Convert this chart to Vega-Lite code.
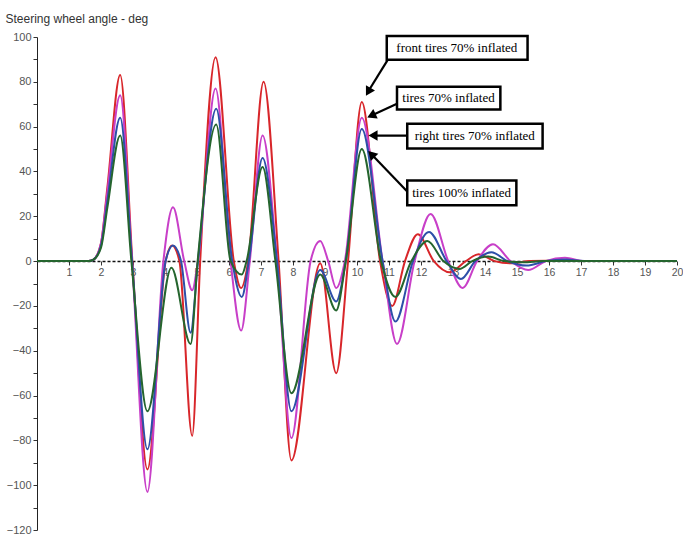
{
  "$schema": "https://vega.github.io/schema/vega-lite/v6.json",
  "width": 640,
  "height": 493,
  "autosize": {"type": "none"},
  "padding": {"left": 37, "top": 37, "right": 6, "bottom": 8},
  "background": "white",
  "view": {"stroke": null},
  "config": {"axis": {"labelOverlap": false, "labelBound": false, "labelFlush": false, "tickCount": 100}},
  "datasets": {
    "curves": [
      {"s": "front tires 70% inflated", "t": 0, "v": 0},
      {"s": "front tires 70% inflated", "t": 1.6, "v": 0},
      {"s": "front tires 70% inflated", "t": 1.75, "v": 0.5},
      {"s": "front tires 70% inflated", "t": 2.0, "v": 8},
      {"s": "front tires 70% inflated", "t": 2.2, "v": 33},
      {"s": "front tires 70% inflated", "t": 2.6, "v": 83},
      {"s": "front tires 70% inflated", "t": 2.98, "v": 0},
      {"s": "front tires 70% inflated", "t": 3.45, "v": -93},
      {"s": "front tires 70% inflated", "t": 4.02, "v": 0},
      {"s": "front tires 70% inflated", "t": 4.22, "v": 7},
      {"s": "front tires 70% inflated", "t": 4.45, "v": 0},
      {"s": "front tires 70% inflated", "t": 4.85, "v": -78},
      {"s": "front tires 70% inflated", "t": 5.1, "v": 0},
      {"s": "front tires 70% inflated", "t": 5.58, "v": 91},
      {"s": "front tires 70% inflated", "t": 6.15, "v": 0},
      {"s": "front tires 70% inflated", "t": 6.38, "v": -12},
      {"s": "front tires 70% inflated", "t": 6.6, "v": 0},
      {"s": "front tires 70% inflated", "t": 7.08, "v": 80},
      {"s": "front tires 70% inflated", "t": 7.55, "v": 0},
      {"s": "front tires 70% inflated", "t": 7.95, "v": -89},
      {"s": "front tires 70% inflated", "t": 8.85, "v": -1},
      {"s": "front tires 70% inflated", "t": 9.35, "v": -50},
      {"s": "front tires 70% inflated", "t": 9.72, "v": 0},
      {"s": "front tires 70% inflated", "t": 10.15, "v": 71},
      {"s": "front tires 70% inflated", "t": 10.72, "v": 0},
      {"s": "front tires 70% inflated", "t": 11.1, "v": -20},
      {"s": "front tires 70% inflated", "t": 11.5, "v": 0},
      {"s": "front tires 70% inflated", "t": 11.9, "v": 12},
      {"s": "front tires 70% inflated", "t": 12.4, "v": 0},
      {"s": "front tires 70% inflated", "t": 12.9, "v": -5},
      {"s": "front tires 70% inflated", "t": 13.4, "v": 0},
      {"s": "front tires 70% inflated", "t": 13.8, "v": 3},
      {"s": "front tires 70% inflated", "t": 14.3, "v": 0},
      {"s": "front tires 70% inflated", "t": 14.8, "v": -1},
      {"s": "front tires 70% inflated", "t": 15.4, "v": 0},
      {"s": "front tires 70% inflated", "t": 16.5, "v": 0.3},
      {"s": "front tires 70% inflated", "t": 17.2, "v": 0},
      {"s": "front tires 70% inflated", "t": 20, "v": 0},

      {"s": "tires 70% inflated", "t": 0, "v": 0},
      {"s": "tires 70% inflated", "t": 1.6, "v": 0},
      {"s": "tires 70% inflated", "t": 1.75, "v": 0.5},
      {"s": "tires 70% inflated", "t": 2.0, "v": 8},
      {"s": "tires 70% inflated", "t": 2.2, "v": 31},
      {"s": "tires 70% inflated", "t": 2.6, "v": 74},
      {"s": "tires 70% inflated", "t": 2.97, "v": 0},
      {"s": "tires 70% inflated", "t": 3.45, "v": -103},
      {"s": "tires 70% inflated", "t": 3.95, "v": 0},
      {"s": "tires 70% inflated", "t": 4.25, "v": 24},
      {"s": "tires 70% inflated", "t": 4.6, "v": 0},
      {"s": "tires 70% inflated", "t": 4.85, "v": -13},
      {"s": "tires 70% inflated", "t": 5.03, "v": 0},
      {"s": "tires 70% inflated", "t": 5.58, "v": 77},
      {"s": "tires 70% inflated", "t": 6.05, "v": 0},
      {"s": "tires 70% inflated", "t": 6.38, "v": -31},
      {"s": "tires 70% inflated", "t": 6.65, "v": 0},
      {"s": "tires 70% inflated", "t": 7.05, "v": 56},
      {"s": "tires 70% inflated", "t": 7.5, "v": 0},
      {"s": "tires 70% inflated", "t": 7.95, "v": -79},
      {"s": "tires 70% inflated", "t": 8.55, "v": 0},
      {"s": "tires 70% inflated", "t": 8.85, "v": 9},
      {"s": "tires 70% inflated", "t": 9.1, "v": 0},
      {"s": "tires 70% inflated", "t": 9.35, "v": -12},
      {"s": "tires 70% inflated", "t": 9.62, "v": 0},
      {"s": "tires 70% inflated", "t": 10.15, "v": 64},
      {"s": "tires 70% inflated", "t": 10.8, "v": 0},
      {"s": "tires 70% inflated", "t": 11.25, "v": -37},
      {"s": "tires 70% inflated", "t": 11.8, "v": 0},
      {"s": "tires 70% inflated", "t": 12.3, "v": 21},
      {"s": "tires 70% inflated", "t": 12.85, "v": 0},
      {"s": "tires 70% inflated", "t": 13.3, "v": -12},
      {"s": "tires 70% inflated", "t": 13.75, "v": 0},
      {"s": "tires 70% inflated", "t": 14.25, "v": 7.5},
      {"s": "tires 70% inflated", "t": 14.8, "v": 0},
      {"s": "tires 70% inflated", "t": 15.35, "v": -4},
      {"s": "tires 70% inflated", "t": 15.9, "v": 0},
      {"s": "tires 70% inflated", "t": 16.5, "v": 1.5},
      {"s": "tires 70% inflated", "t": 17.1, "v": 0},
      {"s": "tires 70% inflated", "t": 20, "v": 0},

      {"s": "right tires 70% inflated", "t": 0, "v": 0},
      {"s": "right tires 70% inflated", "t": 1.6, "v": 0},
      {"s": "right tires 70% inflated", "t": 1.75, "v": 0.5},
      {"s": "right tires 70% inflated", "t": 2.0, "v": 7},
      {"s": "right tires 70% inflated", "t": 2.2, "v": 27},
      {"s": "right tires 70% inflated", "t": 2.6, "v": 64},
      {"s": "right tires 70% inflated", "t": 2.97, "v": 0},
      {"s": "right tires 70% inflated", "t": 3.45, "v": -84},
      {"s": "right tires 70% inflated", "t": 4.02, "v": 0},
      {"s": "right tires 70% inflated", "t": 4.25, "v": 7},
      {"s": "right tires 70% inflated", "t": 4.5, "v": 0},
      {"s": "right tires 70% inflated", "t": 4.8, "v": -32},
      {"s": "right tires 70% inflated", "t": 5.03, "v": 0},
      {"s": "right tires 70% inflated", "t": 5.6, "v": 68},
      {"s": "right tires 70% inflated", "t": 6.1, "v": 0},
      {"s": "right tires 70% inflated", "t": 6.4, "v": -16},
      {"s": "right tires 70% inflated", "t": 6.62, "v": 0},
      {"s": "right tires 70% inflated", "t": 7.05, "v": 46},
      {"s": "right tires 70% inflated", "t": 7.5, "v": 0},
      {"s": "right tires 70% inflated", "t": 7.95, "v": -67},
      {"s": "right tires 70% inflated", "t": 8.85, "v": -4},
      {"s": "right tires 70% inflated", "t": 9.35, "v": -18},
      {"s": "right tires 70% inflated", "t": 9.65, "v": 0},
      {"s": "right tires 70% inflated", "t": 10.15, "v": 59},
      {"s": "right tires 70% inflated", "t": 10.8, "v": 0},
      {"s": "right tires 70% inflated", "t": 11.2, "v": -27},
      {"s": "right tires 70% inflated", "t": 11.75, "v": 0},
      {"s": "right tires 70% inflated", "t": 12.25, "v": 13},
      {"s": "right tires 70% inflated", "t": 12.8, "v": 0},
      {"s": "right tires 70% inflated", "t": 13.25, "v": -8},
      {"s": "right tires 70% inflated", "t": 13.7, "v": 0},
      {"s": "right tires 70% inflated", "t": 14.2, "v": 4},
      {"s": "right tires 70% inflated", "t": 14.7, "v": 0},
      {"s": "right tires 70% inflated", "t": 15.3, "v": -2},
      {"s": "right tires 70% inflated", "t": 15.9, "v": 0},
      {"s": "right tires 70% inflated", "t": 16.5, "v": 0.7},
      {"s": "right tires 70% inflated", "t": 17.1, "v": 0},
      {"s": "right tires 70% inflated", "t": 20, "v": 0},

      {"s": "tires 100% inflated", "t": 0, "v": 0},
      {"s": "tires 100% inflated", "t": 1.6, "v": 0},
      {"s": "tires 100% inflated", "t": 1.75, "v": 0.5},
      {"s": "tires 100% inflated", "t": 2.0, "v": 6},
      {"s": "tires 100% inflated", "t": 2.2, "v": 24},
      {"s": "tires 100% inflated", "t": 2.6, "v": 56},
      {"s": "tires 100% inflated", "t": 2.95, "v": 0},
      {"s": "tires 100% inflated", "t": 3.45, "v": -67},
      {"s": "tires 100% inflated", "t": 4.2, "v": -3},
      {"s": "tires 100% inflated", "t": 4.8, "v": -37},
      {"s": "tires 100% inflated", "t": 5.02, "v": 0},
      {"s": "tires 100% inflated", "t": 5.6, "v": 61},
      {"s": "tires 100% inflated", "t": 6.05, "v": 0},
      {"s": "tires 100% inflated", "t": 6.4, "v": -6},
      {"s": "tires 100% inflated", "t": 6.55, "v": 0},
      {"s": "tires 100% inflated", "t": 7.05, "v": 42},
      {"s": "tires 100% inflated", "t": 7.45, "v": 0},
      {"s": "tires 100% inflated", "t": 7.95, "v": -59},
      {"s": "tires 100% inflated", "t": 8.85, "v": -6},
      {"s": "tires 100% inflated", "t": 9.35, "v": -22},
      {"s": "tires 100% inflated", "t": 9.65, "v": 0},
      {"s": "tires 100% inflated", "t": 10.15, "v": 50},
      {"s": "tires 100% inflated", "t": 10.75, "v": 0},
      {"s": "tires 100% inflated", "t": 11.2, "v": -16},
      {"s": "tires 100% inflated", "t": 11.7, "v": 0},
      {"s": "tires 100% inflated", "t": 12.2, "v": 9},
      {"s": "tires 100% inflated", "t": 12.7, "v": 0},
      {"s": "tires 100% inflated", "t": 13.2, "v": -3.5},
      {"s": "tires 100% inflated", "t": 13.6, "v": 0},
      {"s": "tires 100% inflated", "t": 14.1, "v": 2},
      {"s": "tires 100% inflated", "t": 14.6, "v": 0},
      {"s": "tires 100% inflated", "t": 15.2, "v": -0.5},
      {"s": "tires 100% inflated", "t": 15.8, "v": 0},
      {"s": "tires 100% inflated", "t": 20, "v": 0}
    ],
    "notes": [
      {"label": "front tires 70% inflated", "x": 13.12, "y": 95, "x1": 10.93, "x2": 15.33, "y1": 89.8, "y2": 100.4},
      {"label": "tires 70% inflated", "x": 12.86, "y": 72.7, "x1": 11.25, "x2": 14.48, "y1": 67.6, "y2": 77.8},
      {"label": "right tires 70% inflated", "x": 13.68, "y": 55.8, "x1": 11.57, "x2": 15.8, "y1": 50.2, "y2": 61.3},
      {"label": "tires 100% inflated", "x": 13.27, "y": 30.4, "x1": 11.57, "x2": 14.98, "y1": 24.9, "y2": 36}
    ],
    "arrows": [
      {"x": 10.96, "y": 89.8, "x2": 10.32, "y2": 75, "hx": 10.35, "hy": 75.5, "angle": 30},
      {"x": 11.25, "y": 70.2, "x2": 10.42, "y2": 64.8, "hx": 10.45, "hy": 64.9, "angle": 65},
      {"x": 11.57, "y": 56, "x2": 10.48, "y2": 56, "hx": 10.5, "hy": 56, "angle": 90},
      {"x": 11.57, "y": 31.1, "x2": 10.43, "y2": 48, "hx": 10.45, "hy": 47.7, "angle": 136}
    ]
  },
  "layer": [
    {
      "data": {"name": "curves"},
      "mark": {"type": "line", "interpolate": "monotone", "strokeWidth": 2},
      "encoding": {
        "x": {
          "field": "t", "type": "quantitative",
          "scale": {"domain": [0, 20], "nice": false, "zero": false},
          "axis": {
            "title": null, "values": [1,2,3,4,5,6,7,8,9,10,11,12,13,14,15,16,17,18,19,20],
            "tickCount": 100, "format": "d",
            "offset": -269, "grid": false,
            "domainDash": [3, 2], "domainWidth": 1.5, "domainColor": "#111",
            "tickColor": "#333", "tickSize": 4,
            "labelColor": "#555", "labelFontSize": 10.5, "labelFont": "Liberation Sans Narrow, Liberation Sans, sans-serif",
            "labelPadding": 2, "labelOverlap": false, "labelFlush": false, "labelBound": false
          }
        },
        "y": {
          "field": "v", "type": "quantitative",
          "scale": {"domain": [-120, 100], "nice": false, "zero": false},
          "axis": {
            "values": [-120,-110,-100,-90,-80,-70,-60,-50,-40,-30,-20,-10,0,10,20,30,40,50,60,70,80,90,100],
            "tickCount": 100, "format": "d",
            "labelExpr": "datum.value % 20 === 0 ? datum.label : ''",
            "labelOverlap": false, "labelFlush": false,
            "grid": false,
            "title": "Steering wheel angle - deg",
            "titleAngle": 0, "titleAlign": "left", "titleBaseline": "middle",
            "titleX": -32, "titleY": -19,
            "titleFontSize": 12, "titleFontWeight": "normal", "titleColor": "#333",
            "titleFont": "Liberation Sans, sans-serif",
            "labelFont": "Liberation Sans Narrow, Liberation Sans, sans-serif",
            "labelFontSize": 11, "labelColor": "#555", "labelPadding": 2,
            "tickColor": "#333", "tickSize": 4, "domainColor": "#222"
          }
        },
        "color": {
          "field": "s", "type": "nominal",
          "scale": {
            "domain": ["front tires 70% inflated", "tires 70% inflated", "right tires 70% inflated", "tires 100% inflated"],
            "range": ["#d8262a", "#c83fc8", "#2d4fa8", "#25652e"]
          },
          "legend": null
        },
        "order": {"field": "t", "type": "quantitative"}
      }
    },
    {
      "data": {"name": "arrows"},
      "mark": {"type": "rule", "color": "black", "strokeWidth": 2.2},
      "encoding": {
        "x": {"field": "x", "type": "quantitative"},
        "y": {"field": "y", "type": "quantitative"},
        "x2": {"field": "x2"},
        "y2": {"field": "y2"}
      }
    },
    {
      "data": {"name": "arrows"},
      "mark": {"type": "point", "shape": "triangle-down", "filled": true, "color": "black", "size": 110, "opacity": 1},
      "encoding": {
        "x": {"field": "hx", "type": "quantitative"},
        "y": {"field": "hy", "type": "quantitative"},
        "angle": {"field": "angle", "type": "quantitative", "scale": null}
      }
    },
    {
      "data": {"name": "notes"},
      "mark": {"type": "rect", "fill": "white", "stroke": "black", "strokeWidth": 2.5},
      "encoding": {
        "x": {"field": "x1", "type": "quantitative"},
        "x2": {"field": "x2"},
        "y": {"field": "y1", "type": "quantitative"},
        "y2": {"field": "y2"}
      }
    },
    {
      "data": {"name": "notes"},
      "mark": {"type": "text", "font": "Liberation Serif, serif", "fontSize": 13, "color": "black", "align": "center", "baseline": "middle"},
      "encoding": {
        "x": {"field": "x", "type": "quantitative"},
        "y": {"field": "y", "type": "quantitative"},
        "text": {"field": "label"}
      }
    }
  ]
}
